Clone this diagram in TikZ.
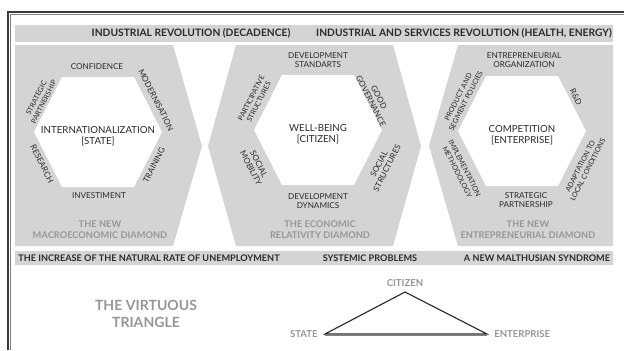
\documentclass[tikz,border=0pt]{standalone}
\usepackage{fontspec}
\setmainfont{Lato}
\definecolor{panelgray}{HTML}{D4D4D4}
\definecolor{inkgray}{HTML}{2A2A2A}
\definecolor{titlegray}{HTML}{979797}
\definecolor{framegray}{HTML}{3A3A3A}
\begin{document}
\begin{tikzpicture}[x=0.025cm,y=-0.025cm,
  band/.style={font=\fontsize{6.5}{7}\selectfont\bfseries, text=inkgray, inner sep=0pt},
  lbl/.style={font=\fontsize{5.8}{6.4}\selectfont, text=inkgray, align=center, inner sep=0pt},
  lblsm/.style={lbl, font=\fontsize{5.1}{6}\selectfont},
  core/.style={font=\fontsize{6.9}{7.6}\selectfont, text=inkgray, align=center, inner sep=0pt},
  title/.style={font=\fontsize{6.6}{8}\selectfont\bfseries, text=titlegray, align=center, inner sep=0pt},
  vertex/.style={font=\fontsize{6.8}{7}\selectfont\bfseries, text=titlegray, inner sep=0pt}]
\useasboundingbox (0,0) rectangle (624,350);
\fill[white] (0,0) rectangle (624,350);
% frame
\draw[line width=1.1pt, framegray] (8,350) -- (8,12) -- (624,12);
\draw[line width=0.3pt, gray] (10.5,350) -- (10.5,14) -- (624,14);
% bands
\fill[panelgray] (15,25) rectangle (613,42);
\fill[panelgray] (15,251) rectangle (613,265);
\node[band, font=\fontsize{7.3}{8}\selectfont\bfseries] (decad) at (191,33.5) {INDUSTRIAL REVOLUTION (DECADENCE)};
\node[band, font=\fontsize{7.3}{8}\selectfont\bfseries] (health) at (464,33.5) {INDUSTRIAL AND SERVICES REVOLUTION (HEALTH, ENERGY)};
\node[band] (unemp) at (149,258) {THE INCREASE OF THE NATURAL RATE OF UNEMPLOYMENT};
\node[band] (system) at (370,258) {SYSTEMIC PROBLEMS};
\node[band] (malth) at (537,258) {A NEW MALTHUSIAN SYNDROME};
% gray panels
\fill[panelgray] (15,45) -- (173,45) -- (202,146) -- (173,246) -- (15,246) -- cycle;
\fill[panelgray] (236,45) -- (393,45) -- (421,146) -- (393,246) -- (236,246) -- (208,146) -- cycle;
\fill[panelgray] (458,45) -- (613,45) -- (613,246) -- (458,246) -- (429,146) -- cycle;
% white hexagons
\fill[white] (34,132) -- (62,77) -- (134,77) -- (162,132) -- (134,187) -- (62,187) -- cycle;
\fill[white] (254,130) -- (282,75) -- (354,75) -- (382,130) -- (354,185) -- (282,185) -- cycle;
\fill[white] (458,131) -- (486,76) -- (558,76) -- (586,131) -- (558,186) -- (486,186) -- cycle;
% macroeconomic diamond
\node[core] (state) at (98,136) {INTERNATIONALIZATION\\[0pt][STATE]};
\node[lbl] (conf) at (97,67) {CONFIDENCE};
\node[lbl, rotate=-63] (modern) at (156,100) {MODERNISATION};
\node[lbl, rotate=63] (train) at (154,165) {TRAINING};
\node[lbl] (invest) at (99,196) {INVESTIMENT};
\node[lbl, rotate=-63] (research) at (42,164) {RESEARCH};
\node[lblsm, rotate=63] (partner) at (40,100) {STRATEGIC\\PARTNERSHIP};
\node[title] (macro) at (100,230) {THE NEW\\MACROECONOMIC DIAMOND};
% relativity diamond
\node[core] (citizen) at (318,134.5) {WELL-BEING\\[0pt][CITIZEN]};
\node[lbl] (standarts) at (318,60) {DEVELOPMENT\\STANDARTS};
\node[lbl, rotate=-63] (govern) at (375,99) {GOOD\\GOVERNANCE};
\node[lbl, rotate=63] (sstruct) at (383,166) {SOCIAL\\STRUCTURES};
\node[lbl] (dynamics) at (318,201) {DEVELOPMENT\\DYNAMICS};
\node[lbl, rotate=-63] (mobility) at (255,166) {SOCIAL\\MOBILITY};
\node[lblsm, rotate=63] (pstruct) at (255,100) {PARTICIPATIVE\\STRUCTURES};
\node[title] (relat) at (320,230) {THE ECONOMIC\\RELATIVITY DIAMOND};
% entrepreneurial diamond
\node[core] (enterprise) at (522,135) {COMPETITION\\[0pt][ENTERPRISE]};
\node[lbl] (organiz) at (524,60) {ENTREPRENEURIAL\\ORGANIZATION};
\node[lbl, rotate=-63] (rnd) at (576,97) {R\&D};
\node[lblsm, rotate=63] (adapt) at (584,168) {ADAPTATION TO\\LOCAL CONDITIONS};
\node[lbl] (spartner) at (526,200) {STRATEGIC\\PARTNERSHIP};
\node[lblsm, rotate=-63] (method) at (461,170) {IMPLEMENTATION\\METHODOLOGY};
\node[lblsm, rotate=63] (product) at (462,99) {PRODUCT AND\\SEGMENT POLICIES};
\node[title] (entre) at (528,230) {THE NEW\\ENTREPRENEURIAL DIAMOND};
% virtuous triangle
\node[title, font=\fontsize{10}{12}\selectfont\bfseries] (virtue) at (146,314) {THE VIRTUOUS\\TRIANGLE};
\coordinate (tc) at (405,292);
\coordinate (ts) at (325,334);
\coordinate (te) at (487,334);
\draw[line width=0.8pt, inkgray, line join=miter] (ts) -- (tc) -- (te) -- cycle;
\draw[line width=0.4pt, gray] ([yshift=-1.2pt]ts) -- ([yshift=-1.2pt]te);
\node[vertex, anchor=south] (citlbl) at ([yshift=4pt]tc) {CITIZEN};
\node[vertex, anchor=east] (stlbl) at ([xshift=-5pt]ts) {STATE};
\node[vertex, anchor=west] (entlbl) at ([xshift=5pt]te) {ENTERPRISE};
\end{tikzpicture}
\end{document}
